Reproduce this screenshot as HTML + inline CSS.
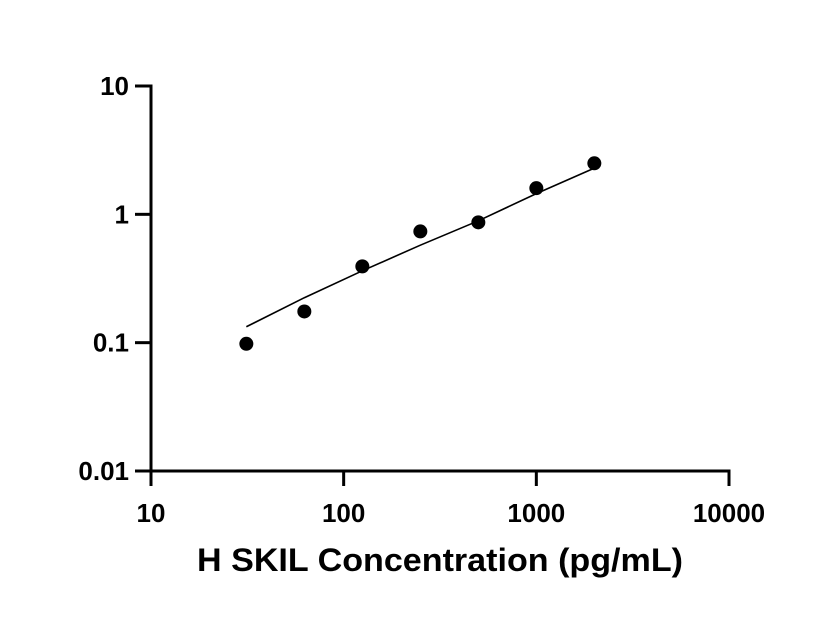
<!DOCTYPE html>
<html><head><meta charset="utf-8"><style>
html,body{margin:0;padding:0;background:#fff;}
svg{display:block;font-family:"Liberation Sans",sans-serif;font-weight:bold;}
</style></head><body>
<svg id="chart" width="816" height="640">
<g id="axes"></g>
<g id="fit"></g>
<g id="pts"></g>
<text x="440" y="571" text-anchor="middle" font-size="32" textLength="486" lengthAdjust="spacingAndGlyphs">H SKIL Concentration (pg/mL)</text>
</svg>
<script>
const xTicks=[10,100,1000,10000];
const xTickLabels=["10","100","1000","10000"];
const yTicks=[0.01,0.1,1,10];
const yTickLabels=["0.01","0.1","1","10"];
const concentrations=[31.25,62.5,125,250,500,1000,2000];
const odValues=[0.098,0.175,0.393,0.736,0.866,1.6,2.5];
const fitX=[31.25,62.5,125,250,500,1000,2000];
const fitY=[0.133,0.224,0.363,0.575,0.89,1.45,2.29];
const X0=151,X1=729,Y0=471,Y1=86;
const xs=v=>X0+(Math.log10(v)-1)/3*(X1-X0);
const ys=v=>Y0-(Math.log10(v)+2)/3*(Y0-Y1);
const NS="http://www.w3.org/2000/svg";
function mk(t,a,p){const e=document.createElementNS(NS,t);for(const k in a)e.setAttribute(k,a[k]);p.appendChild(e);return e;}
const ax=document.getElementById('axes');
let l=mk('line',{x1:X0,y1:Y0,x2:X1+1.5,y2:Y0,stroke:'#000','stroke-width':3},ax);


l=mk('line',{x1:X0,y1:Y0+1.5,x2:X0,y2:Y1-1.5,stroke:'#000','stroke-width':3},ax);


xTicks.forEach((v,i)=>{const x=xs(v);
 const t=mk('line',{x1:x,y1:Y0,x2:x,y2:Y0+15,stroke:'#000','stroke-width':3},ax);
 
 
 const tx=mk('text',{x:x,y:Y0+51,'text-anchor':'middle','font-size':26},ax);tx.textContent=xTickLabels[i];
 
 
});
yTicks.forEach((v,i)=>{const y=ys(v);
 const t=mk('line',{x1:X0-16,y1:y,x2:X0,y2:y,stroke:'#000','stroke-width':3},ax);
 
 
 const tx=mk('text',{x:X0-22,y:y+9,'text-anchor':'end','font-size':26},ax);tx.textContent=yTickLabels[i];
 
 
});
const fp=mk('polyline',{points:fitX.map((v,i)=>xs(v)+','+ys(fitY[i])).join(' '),fill:'none',stroke:'#000','stroke-width':1.6},document.getElementById('fit'));


const pg=document.getElementById('pts');
concentrations.forEach((v,i)=>{const c=mk('circle',{cx:xs(v),cy:ys(odValues[i]),r:7,fill:'#000'},pg);
 
 
});
</script>
</body></html>
